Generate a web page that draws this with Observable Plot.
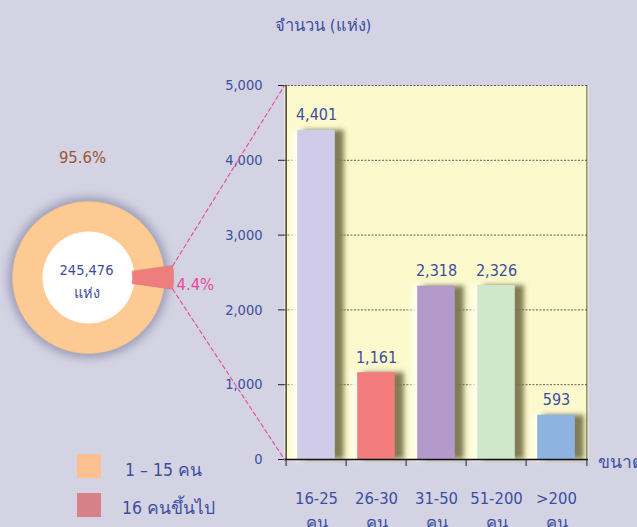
<!DOCTYPE html>
<html><head><meta charset="utf-8">
<script src="https://cdn.jsdelivr.net/npm/d3@7"></script>
<script src="https://cdn.jsdelivr.net/npm/@observablehq/plot@0.6"></script>
<style>
html,body{margin:0;padding:0;background:#d3d3e3;}
#chart{position:relative;width:637px;height:527px;overflow:hidden;background:#d3d3e3;font-family:"DejaVu Sans Condensed","DejaVu Sans",sans-serif;color:#3c4ea0;}
#chart svg{position:absolute;left:0;top:0;}
.lbl{position:absolute;white-space:nowrap;}
.sw{position:absolute;width:24px;height:24px;}
</style></head><body><div id="chart"></div>
<script>
// ---- data ----
const categories = ["16-25", "26-30", "31-50", "51-200", ">200"];
const counts = [4401, 1161, 2318, 2326, 593];
const barColors = ["#cfcbe8", "#f37c7c", "#b49aca", "#d0e8c9", "#8fb3e0"];
const yTicks = [0, 1000, 2000, 3000, 4000, 5000];
const gridTicks = [1000, 2000, 3000, 4000];
const unitSuffix = "คน";
const shareLabels = ["1 – 15 คน", "16 คนขึ้นไป"];
const shares = [95.6, 4.4];
const ringColors = ["#fdca94", "#ee7e7e"];
const legendColors = ["#fac090", "#d88088"];
const shareTextColors = ["#9b5536", "#e8489a"];
const totalLabel = "245,476";
const unitLabel = "แห่ง";
const titleText = "จำนวน (แห่ง)";
const xTitle = "ขนาด";

// ---- layout ----
const W = 637, H = 527;
const M = {left: 284, right: 49, top: 85, bottom: 68};
const bw = (W - M.left - M.right) / categories.length;
const inset = 11.2;
const FONT = '"DejaVu Sans Condensed","DejaVu Sans",sans-serif';
const BLUE = "#3c4ea0";
const SHADOW = "#57531f", GLOW = "#fffff0", HALO = "#8a8aaa";
const root = document.getElementById("chart");

function blurByFill(svg, id, sd, fill) {
  const s = d3.select(svg);
  let defs = s.select("defs");
  if (defs.empty()) defs = s.insert("defs", ":first-child");
  defs.append("filter").attr("id", id)
    .attr("x", "-50%").attr("y", "-50%").attr("width", "200%").attr("height", "200%")
    .append("feGaussianBlur").attr("stdDeviation", sd);
  s.selectAll("g, rect, circle, path")
    .filter(function () { return (this.getAttribute("fill") || "").toLowerCase() === fill; })
    .attr("filter", `url(#${id})`);
}

const barData = categories.map((c, i) => ({c, v: counts[i], color: barColors[i]}));

const bars = Plot.plot({
  width: W, height: H,
  marginLeft: M.left, marginRight: M.right, marginTop: M.top, marginBottom: M.bottom,
  style: {background: "transparent", fontFamily: FONT, overflow: "visible"},
  x: {domain: categories, padding: 0},
  y: {domain: [0, 5000]},
  marks: [
    Plot.frame({fill: "#fcf9cc", stroke: "none"}),
    Plot.ruleY(gridTicks, {stroke: "#333", strokeDasharray: "2,1.5", strokeWidth: 0.8}),
    Plot.ruleY([5000], {stroke: "#333", strokeDasharray: "2,1.5", strokeWidth: 0.8}),
    Plot.barY(barData, {x: "c", y: "v", insetLeft: inset - 6, insetRight: inset - 6, fill: GLOW, fillOpacity: 0.95}),
    Plot.barY(barData, {x: "c", y: "v", insetLeft: inset + 6, insetRight: inset - 9, fill: SHADOW, fillOpacity: 0.75}),
    Plot.barY(barData, {x: "c", y: "v", insetLeft: inset, insetRight: inset, fill: "color"}),
    Plot.text(barData, {x: "c", y: "v", text: d => d3.format(",")(d.v), lineAnchor: "bottom", dy: -10, fontSize: 16, fill: BLUE}),
    Plot.ruleY([0], {stroke: "#111", strokeWidth: 1.6}),
    Plot.ruleX([categories[0]], {x: d => d, dx: -bw / 2, y1: 0, y2: 5000, stroke: "#111", strokeWidth: 1.2}),
    Plot.ruleX([categories[categories.length - 1]], {x: d => d, dx: bw / 2, y1: 0, y2: 5000, stroke: "#444", strokeWidth: 0.9}),
    Plot.axisY({ticks: yTicks, tickSize: 6, tickFormat: () => "", color: "#222", label: null}),
    Plot.axisY({ticks: yTicks, tickSize: 0, tickPadding: 22, tickFormat: d3.format(","), color: BLUE, fontSize: 14.5, label: null}),
    Plot.axisX({tickSize: 7, dx: -bw / 2, tickFormat: () => "", color: "#222", label: null}),
    Plot.axisX({ticks: [categories[categories.length - 1]], tickSize: 7, dx: bw / 2, tickFormat: () => "", color: "#222", label: null}),
    Plot.axisX({tickSize: 0, tickPadding: 26, tickFormat: d => d + "\n" + unitSuffix, lineHeight: 1.55, color: BLUE, fontSize: 16.5, label: null})
  ]
});
blurByFill(bars, "fShadow", 2.5, SHADOW);
blurByFill(bars, "fGlow", 3, GLOW);

// ---- donut overlay ----
const yS = bars.scale("y");
const cx = 88, cy = 277, rIn = 46, rOut = 76;
const pie = d3.pie().sort(null)
  .startAngle(Math.PI / 2 + Math.PI * shares[1] / 100)
  .endAngle(Math.PI / 2 + Math.PI * shares[1] / 100 + 2 * Math.PI)(shares);
const pt = (r, a) => [cx + r * Math.sin(a), cy - r * Math.cos(a)];
function ring(a0, a1, r0, r1) {
  const n = Math.max(4, Math.ceil((a1 - a0) / 0.02));
  const pts = [];
  for (let k = 0; k <= n; k++) { const a = a0 + (a1 - a0) * k / n; const [x, y] = pt(r1, a); pts.push({x, y}); }
  for (let k = n; k >= 0; k--) { const a = a0 + (a1 - a0) * k / n; const [x, y] = pt(r0, a); pts.push({x, y}); }
  return pts;
}
const bigSlice = ring(pie[0].startAngle, pie[0].endAngle, rIn - 2, rOut);
const smallSlice = ring(pie[1].startAngle, pie[1].endAngle, rIn - 2, rOut + 9);
const cornerTop = pt(rOut + 9, pie[1].startAngle);
const cornerBot = pt(rOut + 9, pie[1].endAngle);
const connTop = [{x: cornerTop[0], y: cornerTop[1]}, {x: M.left, y: yS.apply(5000)}];
const connBot = [{x: cornerBot[0], y: cornerBot[1]}, {x: M.left, y: yS.apply(0)}];
const midSmall = (pie[1].startAngle + pie[1].endAngle) / 2;
const smallLblPos = pt(rOut + 12, midSmall);

const donut = Plot.plot({
  width: W, height: H, margin: 0,
  style: {background: "transparent", fontFamily: FONT, overflow: "visible"},
  x: {type: "identity", axis: null},
  y: {type: "identity", axis: null},
  marks: [
    Plot.dot([{x: cx, y: cy}], {x: "x", y: "y", r: rOut + 4, fill: HALO, fillOpacity: 0.8, stroke: "none"}),
    Plot.line(bigSlice, {x: "x", y: "y", fill: ringColors[0], stroke: "#f0c08a", strokeWidth: 0.6, curve: "linear-closed"}),
    Plot.dot([{x: cx, y: cy}], {x: "x", y: "y", r: rIn, fill: "#ffffff", stroke: "none"}),
    Plot.line(smallSlice, {x: "x", y: "y", fill: ringColors[1], stroke: "#e06c70", strokeWidth: 0.5, curve: "linear-closed"}),
    Plot.line(connTop, {x: "x", y: "y", stroke: "#e8489a", strokeDasharray: "4,3", strokeWidth: 1.1}),
    Plot.line(connBot, {x: "x", y: "y", stroke: "#e8489a", strokeDasharray: "4,3", strokeWidth: 1.1}),
    Plot.text([totalLabel], {x: () => cx - 2, y: () => cy - 7, text: d => d, fontSize: 14.5, fill: BLUE}),
    Plot.text([unitLabel], {x: () => cx - 2, y: () => cy + 16, text: d => d, fontSize: 14.5, fill: BLUE}),
    Plot.text([shares[0]], {x: () => cx - 6, y: () => cy - 120, text: d => d.toFixed(1) + "%", fontSize: 16.5, fill: shareTextColors[0]}),
    Plot.text([shares[1]], {x: () => smallLblPos[0], y: () => smallLblPos[1] + 7, text: d => d.toFixed(1) + "%", textAnchor: "start", fontSize: 16.5, fill: shareTextColors[1]})
  ]
});
blurByFill(donut, "fHalo", 5, HALO);

root.appendChild(bars);
root.appendChild(donut);

// ---- titles & legend ----
function addLabel(text, left, top, size, color) {
  const d = document.createElement("div");
  d.className = "lbl"; d.textContent = text;
  d.style.left = left + "px"; d.style.top = top + "px";
  d.style.fontSize = size + "px"; d.style.color = color || BLUE;
  root.appendChild(d); return d;
}
addLabel(titleText, 275, 12, 16.5);
addLabel(xTitle, 598, 448, 17.5);
shareLabels.forEach((t, i) => {
  const s = document.createElement("div");
  s.className = "sw"; s.style.left = "77px"; s.style.top = (454 + i * 39) + "px";
  s.style.background = legendColors[i];
  root.appendChild(s);
  addLabel(t, i === 0 ? 125 : 122, 456 + i * 38, 17.5);
});
</script></body></html>
